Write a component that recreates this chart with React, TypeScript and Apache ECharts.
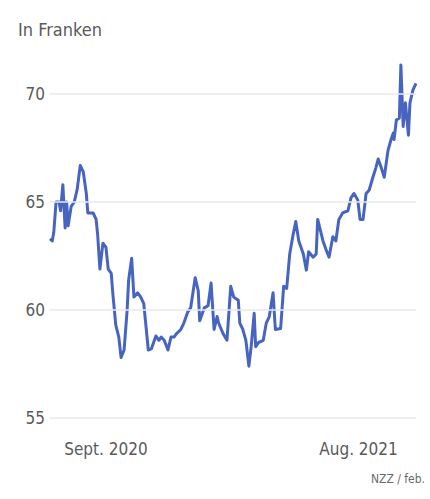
import React, { useEffect, useRef } from "react";
import * as echarts from "echarts";

const dates: string[] = [
  "2020-06-19","2020-06-22","2020-06-24","2020-06-27","2020-07-01","2020-07-03","2020-07-06","2020-07-09",
  "2020-07-11","2020-07-13","2020-07-17","2020-07-21","2020-07-25","2020-07-29","2020-08-02","2020-08-06",
  "2020-08-08","2020-08-15","2020-08-19","2020-08-21","2020-08-24","2020-08-28","2020-09-01","2020-09-04",
  "2020-09-08","2020-09-10","2020-09-14","2020-09-18","2020-09-21","2020-09-25","2020-09-29","2020-10-01",
  "2020-10-05","2020-10-08","2020-10-13","2020-10-17","2020-10-21","2020-10-27","2020-10-31","2020-11-06",
  "2020-11-10","2020-11-13","2020-11-17","2020-11-22","2020-11-26","2020-11-30","2020-12-03","2020-12-09",
  "2020-12-13","2020-12-18","2020-12-22","2020-12-28","2021-01-01","2021-01-03","2021-01-09","2021-01-14",
  "2021-01-18","2021-01-22","2021-01-26","2021-01-28","2021-02-03","2021-02-08","2021-02-13","2021-02-17",
  "2021-02-23","2021-02-25","2021-03-01","2021-03-05","2021-03-09","2021-03-12","2021-03-16","2021-03-18",
  "2021-03-22","2021-03-28","2021-04-01","2021-04-05","2021-04-10","2021-04-13","2021-04-20","2021-04-24",
  "2021-04-28","2021-05-02","2021-05-06","2021-05-10","2021-05-14","2021-05-20","2021-05-24","2021-05-27",
  "2021-06-02","2021-06-06","2021-06-08","2021-06-15","2021-06-19","2021-06-23","2021-06-28","2021-07-02",
  "2021-07-06","2021-07-11","2021-07-18","2021-07-22","2021-07-26","2021-07-31","2021-08-03","2021-08-07",
  "2021-08-11","2021-08-15","2021-08-20","2021-08-24","2021-08-27","2021-08-31","2021-09-04","2021-09-09",
  "2021-09-13","2021-09-16","2021-09-17","2021-09-20","2021-09-24","2021-09-26","2021-09-29","2021-10-02",
  "2021-10-06","2021-10-08","2021-10-12","2021-10-16"
];

const values: number[] = [
  63.3, 63.2, 63.6, 65.0, 65.0, 64.6, 65.8, 63.8,
  65.0, 63.9, 64.8, 65.0, 65.6, 66.7, 66.4, 65.4,
  64.5, 64.5, 64.2, 63.5, 61.9, 63.1, 62.9, 61.9,
  61.7, 60.8, 59.3, 58.75, 57.8, 58.15, 60.0, 61.4,
  62.4, 60.6, 60.8, 60.6, 60.3, 58.15, 58.2, 58.8,
  58.6, 58.75, 58.6, 58.15, 58.75, 58.75, 58.9, 59.1,
  59.4, 59.9, 60.1, 61.5, 60.9, 59.5, 60.1, 60.2,
  61.25, 59.1, 59.7, 59.4, 58.9, 58.6, 61.1, 60.6,
  60.45, 59.4, 59.1, 58.6, 57.4, 58.3, 59.85, 58.3,
  58.5, 58.6, 59.4, 59.7, 60.8, 59.1, 59.15, 61.1,
  61.0, 62.6, 63.4, 64.1, 63.2, 62.6, 61.85, 62.7,
  62.45, 62.6, 64.2, 63.2, 62.8, 62.45, 63.4, 63.2,
  64.2, 64.5, 64.6, 65.2, 65.4, 65.1, 64.2, 64.2,
  65.4, 65.55, 66.15, 66.6, 67.0, 66.6, 66.15, 67.4,
  67.9, 68.2, 67.9, 68.8, 68.9, 71.35, 68.5, 69.6,
  68.1, 69.6, 70.2, 70.5
];

const xTickDates: string[] = ["2020-09-01", "2021-08-01"];
const xTickLabels: string[] = ["Sept. 2020", "Aug. 2021"];
const yTicks: number[] = [55, 60, 65, 70];

const FONT = "'DejaVu Sans Condensed', Roboto, sans-serif";

const toTime = (d: string) => Date.parse(d + "T00:00:00Z");

export default function App() {
  const ref = useRef<HTMLDivElement>(null);
  useEffect(() => {
    if (!ref.current) return;
    const chart = echarts.init(ref.current, undefined, { renderer: "svg" });
    const tickTimes = xTickDates.map(toTime);
    const seriesData = dates.map((d, i) => [toTime(d), values[i]]);
    chart.setOption({
      animation: false,
      backgroundColor: "#ffffff",
      title: [
        {
          text: "In Franken",
          left: 18,
          top: 20,
          padding: 0,
          textStyle: { fontFamily: FONT, fontSize: 18, fontWeight: "normal", color: "#5a5a5a" },
        },
        {
          text: "NZZ / feb.",
          right: 5,
          top: 473,
          padding: 0,
          textStyle: { fontFamily: FONT, fontSize: 12, fontWeight: "normal", color: "#6a6a6a" },
        },
      ],
      grid: { left: 50, right: 14, top: 51, bottom: 81, containLabel: false },
      xAxis: {
        type: "value",
        min: toTime(dates[0]),
        max: toTime(dates[dates.length - 1]),
        axisLine: { show: false },
        axisTick: { show: false },
        splitLine: { show: false },
        axisLabel: {
          customValues: tickTimes,
          margin: 22,
          fontFamily: FONT,
          fontSize: 17,
          color: "#5a5a5a",
          formatter: (val: number) => {
            const i = tickTimes.findIndex((t) => Math.abs(t - val) < 2 * 86400000);
            return i >= 0 ? xTickLabels[i] : "";
          },
        },
      },
      yAxis: {
        type: "value",
        min: 55,
        max: 72,
        interval: 5,
        axisLine: { show: false },
        axisTick: { show: false },
        splitLine: { show: false },
        axisLabel: {
          showMaxLabel: false,
          margin: 5,
          fontFamily: FONT,
          fontSize: 17,
          color: "#5a5a5a",
          formatter: (v: number) => (yTicks.includes(v) ? String(v) : ""),
        },
      },
      series: [
        {
          type: "line",
          z: 1,
          data: seriesData,
          showSymbol: false,
          symbol: "none",
          lineStyle: { opacity: 0 },
          silent: true,
          markLine: {
            silent: true,
            symbol: "none",
            label: { show: false },
            lineStyle: { color: "#e8e8e8", width: 1.5, type: "solid" },
            data: yTicks.map((v) => ({ yAxis: v })),
          },
        },
        {
          type: "line",
          z: 2,
          data: seriesData,
          showSymbol: false,
          symbol: "none",
          lineStyle: { color: "#4765c0", width: 3, join: "round" },
          clip: false,
        },
      ],
    });
    return () => chart.dispose();
  }, []);
  return (
    <div
      ref={ref}
      style={{ position: "fixed", left: 0, top: 0, width: 430, height: 499 }}
    />
  );
}
